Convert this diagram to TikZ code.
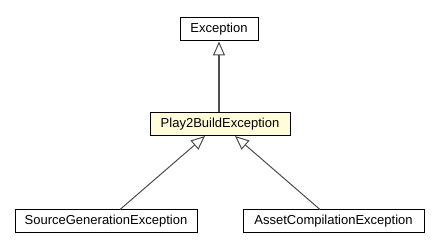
\documentclass[tikz,border=0pt]{standalone}
\usepackage{fontspec}
\setmainfont{Liberation Sans}
\usetikzlibrary{arrows.meta}
\begin{document}
\begin{tikzpicture}[x=1pt,y=-1pt,
  cls/.style={draw=black, line width=1pt, rectangle, minimum height=23pt, inner sep=0pt, font=\fontsize{13}{15}\selectfont},
  plain/.style={cls, fill=white},
  focus/.style={cls, fill=yellow!15!white},
  inherit/.style={draw=black!70, line width=1.3pt, -{Triangle[open, length=14pt, width=12pt, line width=1pt, fill=white]}}]
  \useasboundingbox (0,0) rectangle (439,251);
  \node[plain, minimum width=78pt] (exc) at (219,29.5) {Exception};
  \node[focus, minimum width=140pt] (p2b) at (220,124.5) {Play2BuildException};
  \node[plain, minimum width=182pt] (src) at (106,221) {SourceGenerationException};
  \node[plain, minimum width=181pt] (asset) at (333.5,221) {AssetCompilationException};
  \coordinate (p2bL) at (205,136);
  \coordinate (p2bR) at (235,136);
  \coordinate (srcT) at (120,209.5);
  \coordinate (assetT) at (320,209.5);
  \draw[inherit] (p2b.north -| exc) -- (exc.south);
  \draw[inherit, line width=1pt] (srcT) -- (p2bL);
  \draw[inherit, line width=1pt] (assetT) -- (p2bR);
\end{tikzpicture}
\end{document}
